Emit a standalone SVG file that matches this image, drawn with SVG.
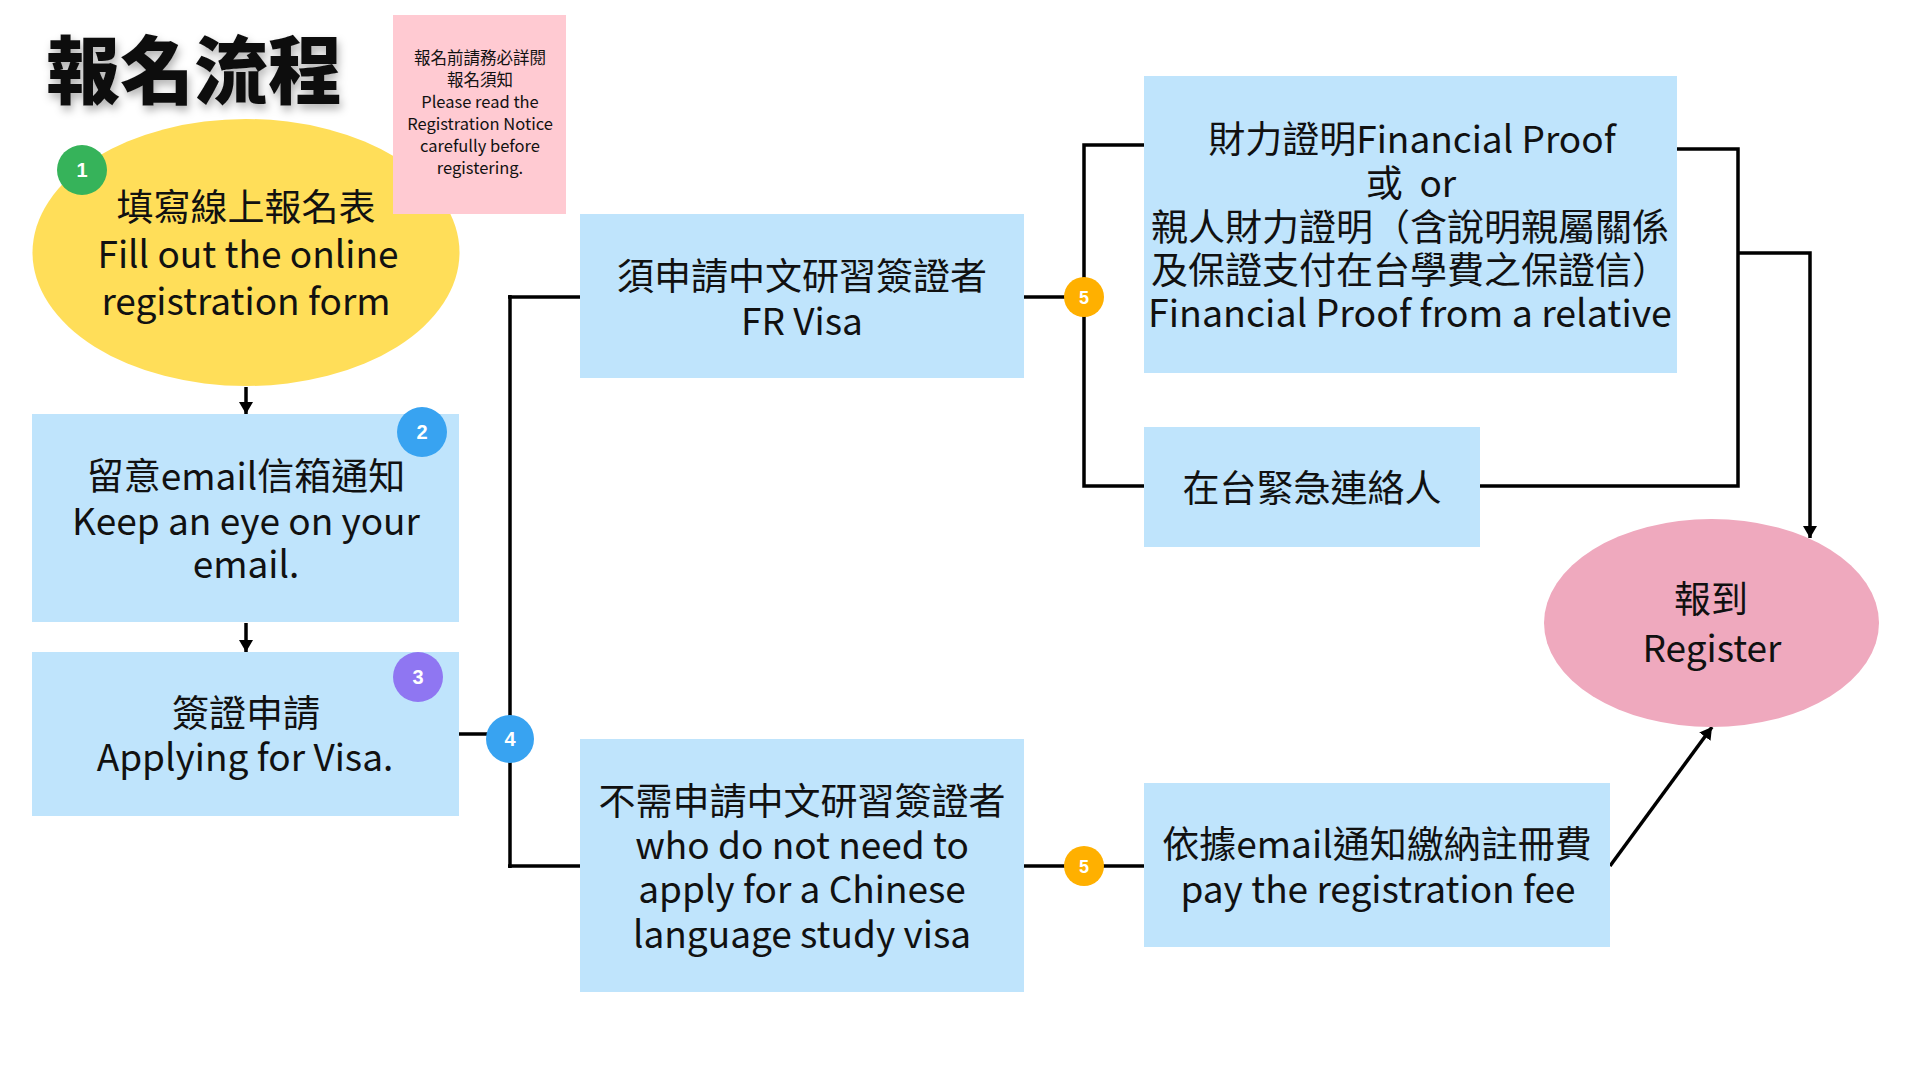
<svg xmlns="http://www.w3.org/2000/svg" width="1920" height="1080" viewBox="0 0 1920 1080">
<defs>
<style>
text{font-family:'Noto Sans CJK TC','Noto Sans CJK SC',sans-serif;fill:#111;}
.t{font-size:37px;text-anchor:middle;}
.n{font-size:16.5px;text-anchor:middle;}
.b{font-family:'Liberation Sans',Arial,sans-serif;font-weight:bold;font-size:20px;fill:#fff;text-anchor:middle;}
.box{fill:#BFE4FC;}
.ln{fill:none;stroke:#000;stroke-width:3.5;}
</style>
<marker id="ah" markerUnits="userSpaceOnUse" markerWidth="14" markerHeight="14" refX="12" refY="7" orient="auto">
<path d="M0,0 L12,7 L0,14 z" fill="#000"/>
</marker>
<filter id="sh" x="-10%" y="-20%" width="130%" height="150%">
<feDropShadow dx="2" dy="5" stdDeviation="4" flood-color="#000" flood-opacity="0.3"/>
</filter>
</defs>
<rect width="1920" height="1080" fill="#fff"/>

<g id="title">
<text x="46" y="98" style="font-size:74px;font-weight:900" filter="url(#sh)">報名流程</text>
</g>

<g id="connectors">
<line class="ln" x1="246" y1="387" x2="246" y2="414" marker-end="url(#ah)"/>
<line class="ln" x1="246" y1="623" x2="246" y2="652" marker-end="url(#ah)"/>
<line class="ln" x1="459" y1="734" x2="500" y2="734"/>
<line class="ln" x1="510" y1="295" x2="510" y2="868"/>
<line class="ln" x1="508" y1="297" x2="580" y2="297"/>
<line class="ln" x1="508" y1="866" x2="580" y2="866"/>
<line class="ln" x1="1024" y1="297" x2="1084" y2="297"/>
<polyline class="ln" points="1145,145 1084,145 1084,486 1145,486"/>
<line class="ln" x1="1024" y1="866" x2="1145" y2="866"/>
<polyline class="ln" points="1676,149 1738,149 1738,486 1480,486"/>
<polyline class="ln" points="1738,253 1810,253 1810,538" marker-end="url(#ah)"/>
<line class="ln" x1="1610" y1="866" x2="1712" y2="727" marker-end="url(#ah)"/>
</g>

<g id="node-register-form">
<ellipse cx="246" cy="252.5" rx="213.5" ry="133.5" fill="#FFDE59"/>
<text class="t" x="246" y="221">填寫線上報名表</text>
<text class="t" x="248" y="268">Fill out the online</text>
<text class="t" x="246" y="315">registration form</text>
</g>

<g id="node-notice">
<rect x="393" y="15" width="173" height="199" fill="#FFCAD2"/>
<text class="n" x="480" y="64">報名前請務必詳閱</text>
<text class="n" x="480" y="86">報名須知</text>
<text class="n" x="480" y="108">Please read the</text>
<text class="n" x="480" y="130">Registration Notice</text>
<text class="n" x="480" y="152">carefully before</text>
<text class="n" x="480" y="174">registering.</text>
</g>

<g id="node-email">
<rect class="box" x="32" y="414" width="427" height="208"/>
<text class="t" x="246" y="490">留意email信箱通知</text>
<text class="t" x="246" y="535">Keep an eye on your</text>
<text class="t" x="246" y="578">email.</text>
</g>

<g id="node-visa">
<rect class="box" x="32" y="652" width="427" height="164"/>
<text class="t" x="246" y="727">簽證申請</text>
<text class="t" x="245" y="771">Applying for Visa.</text>
</g>

<g id="node-fr-visa">
<rect class="box" x="580" y="214" width="444" height="164"/>
<text class="t" x="802" y="290">須申請中文研習簽證者</text>
<text class="t" x="802" y="335">FR Visa</text>
</g>

<g id="node-no-visa">
<rect class="box" x="580" y="739" width="444" height="253"/>
<text class="t" x="802" y="815">不需申請中文研習簽證者</text>
<text class="t" x="802" y="859">who do not need to</text>
<text class="t" x="802" y="903">apply for a Chinese</text>
<text class="t" x="802" y="948">language study visa</text>
</g>

<g id="node-financial">
<rect class="box" x="1144" y="76" width="533" height="297"/>
<text class="t" x="1412" y="153">財力證明Financial Proof</text>
<text class="t" x="1411" y="197">或&#160; or</text>
<text class="t" x="1410" y="241">親人財力證明（含說明親屬關係</text>
<text class="t" x="1410" y="284">及保證支付在台學費之保證信）</text>
<text class="t" x="1410" y="327" style="font-size:37.5px">Financial Proof from a relative</text>
</g>

<g id="node-contact">
<rect class="box" x="1144" y="427" width="336" height="120"/>
<text class="t" x="1312" y="502">在台緊急連絡人</text>
</g>

<g id="node-fee">
<rect class="box" x="1144" y="783" width="466" height="164"/>
<text class="t" x="1377" y="858">依據email通知繳納註冊費</text>
<text class="t" x="1378" y="903">pay the registration fee</text>
</g>

<g id="node-register">
<ellipse cx="1711.5" cy="623" rx="167.5" ry="104" fill="#EFA9BE"/>
<text class="t" x="1711" y="613">報到</text>
<text class="t" x="1712" y="662">Register</text>
</g>

<g id="badge-1"><circle cx="82" cy="170" r="25" fill="#36B35A"/><text class="b" x="82" y="177">1</text></g>
<g id="badge-2"><circle cx="422" cy="432" r="25" fill="#38A3F1"/><text class="b" x="422" y="439">2</text></g>
<g id="badge-3"><circle cx="418" cy="677" r="25" fill="#8F76F2"/><text class="b" x="418" y="684">3</text></g>
<g id="badge-4"><circle cx="510" cy="739" r="24" fill="#38A3F1"/><text class="b" x="510" y="746">4</text></g>
<g id="badge-5a"><circle cx="1084" cy="297" r="20" fill="#FFB000"/><text class="b" x="1084" y="304" style="font-size:18px">5</text></g>
<g id="badge-5b"><circle cx="1084" cy="866" r="20" fill="#FFB000"/><text class="b" x="1084" y="873" style="font-size:18px">5</text></g>
</svg>
